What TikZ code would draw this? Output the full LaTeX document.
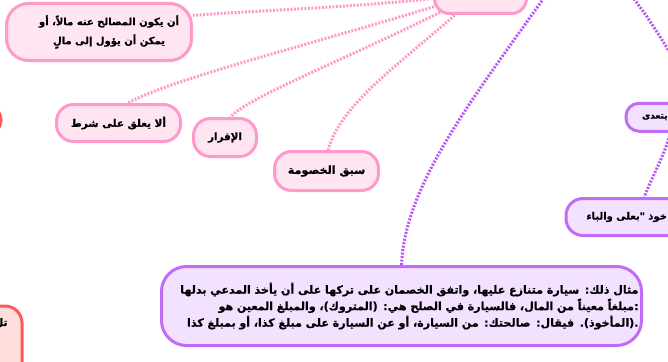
\documentclass[tikz,border=0pt]{standalone}
\usepackage{fontspec}
\TeXXeTstate=1
\newfontfamily\arabicfont[Script=Arabic, BoldFeatures={FakeBold=0.6}]{DejaVu Sans}
\usetikzlibrary{backgrounds}
\definecolor{pinkc}{HTML}{FF99CC}
\definecolor{pinkf}{HTML}{FFE4F2}
\definecolor{purpc}{HTML}{C06CF5}
\definecolor{purpl}{HTML}{B856F5}
\definecolor{purpf}{HTML}{F3E2FF}
\definecolor{redc}{HTML}{FF5A5A}
\definecolor{redf}{HTML}{FFDEDE}
\newcommand{\arsize}[2]{\arabicfont\bfseries\fontsize{#1}{#2}\selectfont}
\tikzset{
  box/.style={line width=3pt, rounded corners=17pt, font=\arsize{10.5}{15}, align=center, inner sep=0pt},
  pinkbox/.style={box, draw=pinkc, fill=pinkf},
  purplebox/.style={box, draw=purpc, fill=purpf},
  redbox/.style={box, draw=redc, fill=redf},
  pinkline/.style={draw=pinkc, line width=3pt, dash pattern=on 2pt off 1.5pt},
  purpline/.style={draw=purpl, line width=3pt, dash pattern=on 2pt off 1.5pt},
}
\begin{document}
\begin{tikzpicture}[x=1pt,y=-1pt]
\useasboundingbox (0,0) rectangle (668,361);
\clip (0,0) rectangle (668,361);
% nodes
\node[pinkbox, minimum width=92pt, minimum height=43.5pt, rounded corners=15pt] (top) at (480.5,-8.25) {};
\node[pinkbox, minimum width=185pt, minimum height=57pt, rounded corners=22pt, font=\arsize{10}{19}] (n1) at (99,32)
  {\hspace*{20pt}\beginR أن يكون المصالح عنه مالاً، أو\endR\\\hspace*{20pt}\beginR يمكن أن يؤول إلى مالٍ\endR};
\node[pinkbox, minimum width=124pt, minimum height=37pt, font=\arsize{10.4}{15}] (shart) at (118.5,123) {\beginR ألا يعلق على شرط\endR};
\node[pinkbox, minimum width=63pt, minimum height=38pt, font=\arsize{10.3}{15}] (iqrar) at (225,137.5) {\beginR الإقرار\endR};
\node[pinkbox, minimum width=104pt, minimum height=39pt, font=\arsize{11.2}{15}] (sabq) at (326.5,171) {\beginR سبق الخصومة\endR};
\node[purplebox, anchor=west, text width=80pt, align=left, inner xsep=16pt, minimum height=28pt, rounded corners=13pt, font=\arsize{9}{13}] (yat) at (624.5,117.25) {\beginR يتعدى\endR};
\node[purplebox, anchor=west, text width=140pt, align=left, inner xsep=20.5pt, minimum height=37pt, font=\arsize{10}{15}] (baala) at (564.5,217) {\beginR خوذ "بعلى والباء\endR};
\node[purplebox, minimum width=480pt, minimum height=79pt, rounded corners=25pt, text width=474pt, align=right, inner xsep=1.5pt, font=\arsize{11.1}{16.5}] (ex) at (401.5,306)
  {\beginR مثال ذلك: سيارة متنازع عليها، واتفق الخصمان على تركها على أن يأخذ المدعي بدلها\endR\\
   \beginR :مبلغاً معيناً من المال، فالسيارة في الصلح هي: (المتروك)، والمبلغ المعين هو\endR\\
   \beginR .(المأخوذ). فيقال: صالحتك: من السيارة، أو عن السيارة على مبلغ كذا، أو بمبلغ كذا\endR};
\node[redbox, anchor=east, minimum width=100pt, minimum height=33pt] (red1) at (2.5,120) {};
\node[redbox, anchor=north east, text width=80pt, align=right, inner xsep=14.5pt, inner ysep=12pt, text depth=60pt] (red2) at (23.5,304.5) {\beginR تل\endR};
\coordinate (pu1) at (560,-25);
\coordinate (pu2) at (625,-12);
\coordinate (pu3) at (680,70);
\coordinate (pu4) at (672,125);
% connectors
\begin{pgfonlayer}{background}
\draw[pinkline] (top.center) .. controls (400,6) and (260,10) .. (n1.10);
\draw[pinkline] (top.center) .. controls (350,35) and (180,75) .. (shart.65);
\draw[pinkline] (top.center) .. controls (370,50) and (250,95) .. (iqrar.75);
\draw[pinkline] (top.center) .. controls (420,50) and (340,100) .. (sabq.85);
\draw[purpline] (pu1) .. controls (480,90) and (405,180) .. (ex.north);
\draw[purpline] (pu2) .. controls (640,5) and (660,35) .. (pu3);
\draw[purpline] (pu4) .. controls (668,150) and (650,180) .. (baala.121);
\end{pgfonlayer}
\end{tikzpicture}
\end{document}
